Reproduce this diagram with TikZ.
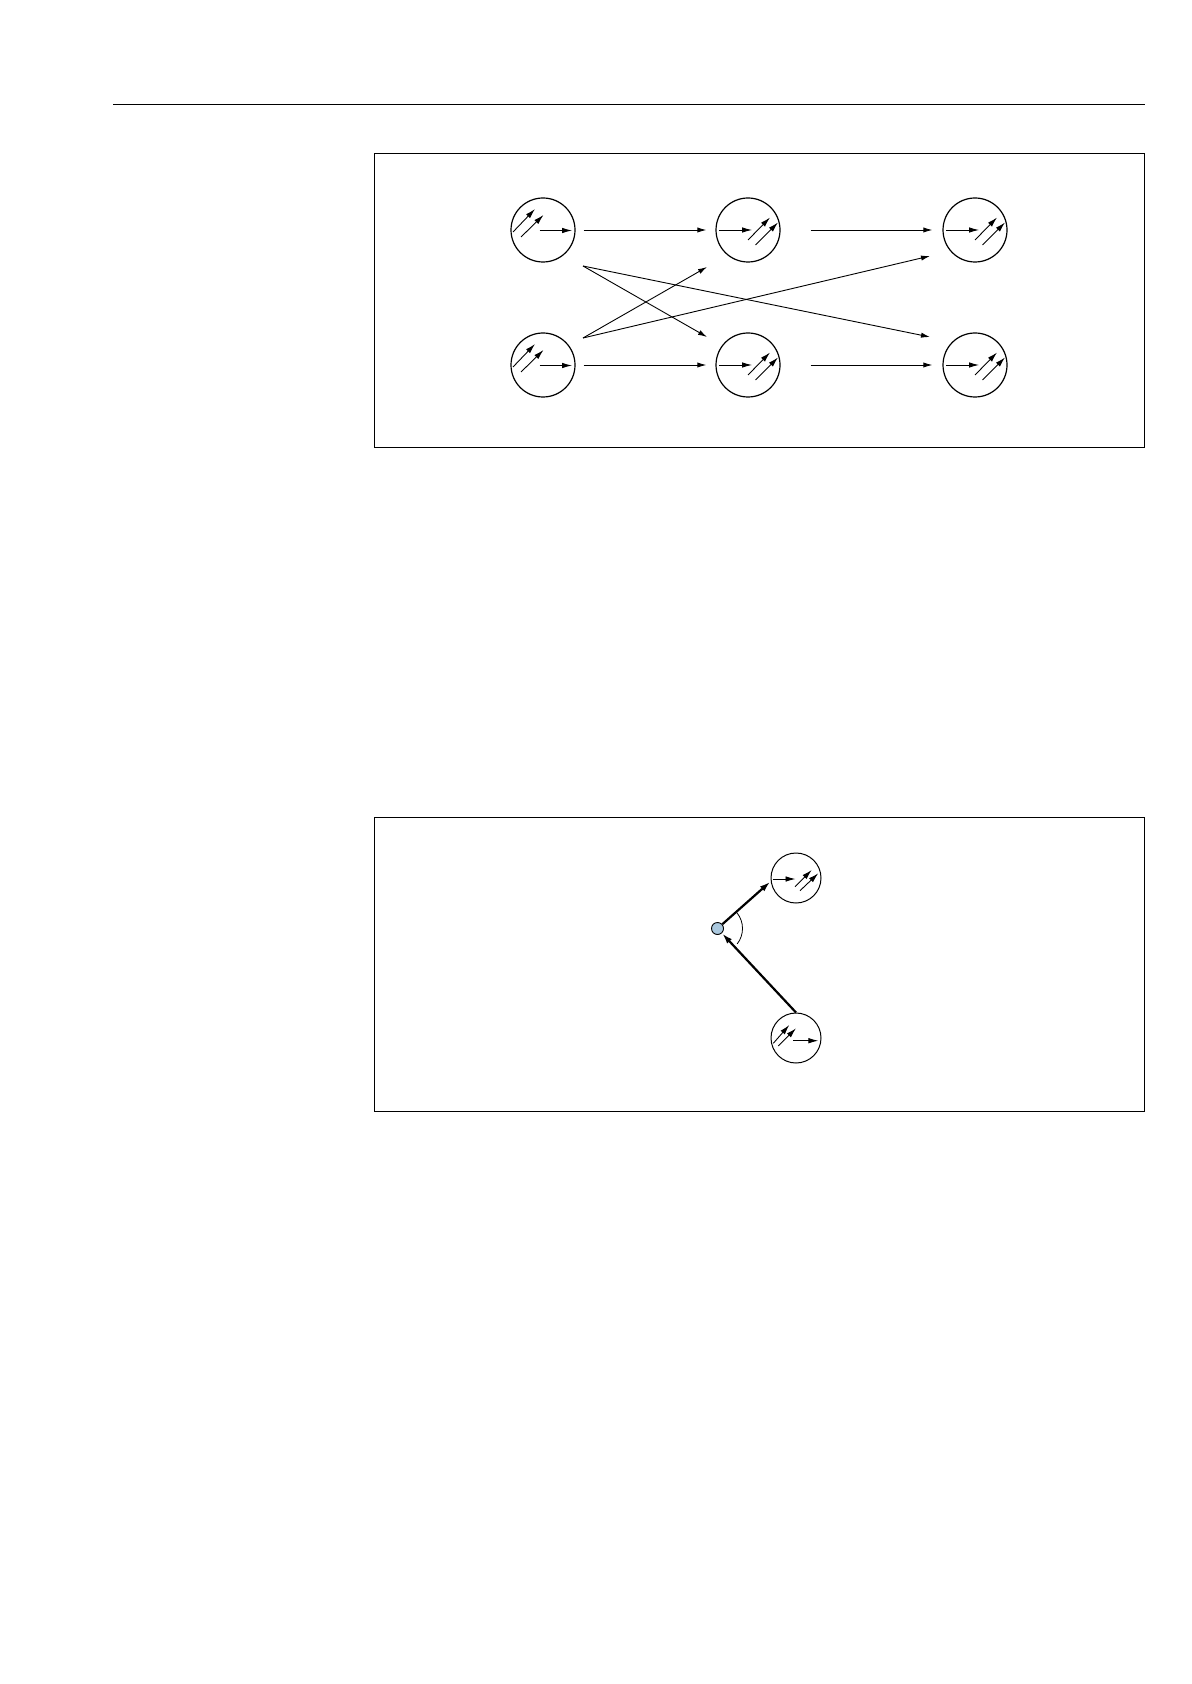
\documentclass[tikz,border=0pt]{standalone}
\usetikzlibrary{arrows.meta,calc}
\definecolor{dotblue}{RGB}{170,200,222}
\tikzset{
  frame/.style={draw=black,line width=0.7pt},
  state/.style={circle,draw=black,line width=0.6pt,minimum size=32pt,inner sep=0pt},
  smallstate/.style={circle,draw=black,line width=0.5pt,minimum size=25pt,inner sep=0pt},
  conn/.style={line width=0.45pt,-{Latex[length=4.5pt,width=2.6pt]}},
  gl/.style={line width=0.45pt,-{Latex[length=5pt,width=2.8pt]}},
  thickconn/.style={line width=1.1pt,-{Latex[length=5.5pt,width=3.2pt]}},
}
% glyph inside a circle: two diagonal arrows left, horizontal arrow right
\newcommand\glyphLeft[2]{%
  \draw[gl] ([shift={({-30*#2},{2*#2})}]#1.center) -- ([shift={({-8*#2},{-21*#2})}]#1.center);
  \draw[gl] ([shift={({-22*#2},{7*#2})}]#1.center) -- ([shift={({0.5*#2},{-15*#2})}]#1.center);
  \draw[gl] ([shift={({-3.5*#2},{0.5*#2})}]#1.center) -- ([shift={({29*#2},{0.5*#2})}]#1.center);}
% glyph inside a circle: horizontal arrow left, two diagonal arrows right
\newcommand\glyphRight[2]{%
  \draw[gl] ([shift={({-29*#2},0)}]#1.center) -- ([shift={({4*#2},0)}]#1.center);
  \draw[gl] ([shift={(0,{10*#2})}]#1.center) -- ([shift={({22*#2},{-12.5*#2})}]#1.center);
  \draw[gl] ([shift={({7.5*#2},{15*#2})}]#1.center) -- ([shift={({30*#2},{-7.5*#2})}]#1.center);}
\begin{document}
\begin{tikzpicture}[x=0.5pt,y=-0.5pt]
\useasboundingbox (0,0) rectangle (1191,1684);
% header rule
\coordinate (ruleL) at (113,104.5);
\coordinate (ruleR) at (1145,104.5);
\draw[line width=0.6pt] (ruleL) -- (ruleR);
% frames
\node[frame,minimum width=385pt,minimum height=147pt,inner sep=0pt,anchor=north west] (box1) at (374,153) {};
\node[frame,minimum width=385pt,minimum height=147pt,inner sep=0pt,anchor=north west] (box2) at (374,817) {};
% top diagram states
\node[state] (A) at (543,230) {};
\node[state] (B) at (748,230) {};
\node[state] (C) at (975,230) {};
\node[state] (D) at (543,365) {};
\node[state] (E) at (748,365) {};
\node[state] (F) at (975,365) {};
\glyphLeft{A}{1}
\glyphLeft{D}{1}
\glyphRight{B}{1}
\glyphRight{C}{1}
\glyphRight{E}{1}
\glyphRight{F}{1}
% straight connectors
\draw[conn,shorten <=4pt,shorten >=4.5pt] (A) -- (B);
\draw[conn,shorten <=15pt,shorten >=5pt] (B) -- (C);
\draw[conn,shorten <=4pt,shorten >=4.5pt] (D) -- (E);
\draw[conn,shorten <=15pt,shorten >=5pt] (E) -- (F);
% crossing connectors
\coordinate (aOut) at (583,266);
\coordinate (dOut) at (583,338);
\coordinate (bIn) at (707,267);
\coordinate (eIn) at (707,337);
\coordinate (cIn) at (930,256);
\coordinate (fIn) at (930,337);
\draw[conn] (aOut) -- (eIn);
\draw[conn] (aOut) -- (fIn);
\draw[conn] (dOut) -- (bIn);
\draw[conn] (dOut) -- (cIn);
% bottom diagram
\node[circle,draw=black,line width=0.45pt,fill=dotblue,minimum size=6pt,inner sep=0pt] (P) at (717.5,928.5) {};
\node[smallstate] (G) at (796,878) {};
\node[smallstate] (H) at (796,1038) {};
% glyphs G
\draw[gl] ([shift={(-23.3,1)}]G.center) -- ([shift={(-0.5,1)}]G.center);
\draw[gl] ([shift={(-1,8.7)}]G.center) -- ([shift={(15.7,-8)}]G.center);
\draw[gl] ([shift={(4,12.7)}]G.center) -- ([shift={(22.3,-4.7)}]G.center);
% glyphs H
\draw[gl] ([shift={(-22.7,5.3)}]H.center) -- ([shift={(-6.7,-13)}]H.center);
\draw[gl] ([shift={(-17.7,8)}]H.center) -- ([shift={(0,-9.7)}]H.center);
\draw[gl] ([shift={(-2.7,2.7)}]H.center) -- ([shift={(22.3,2.7)}]H.center);
% thick connectors
\draw[thickconn] (P) -- (G.west |- 0,881.5);
\draw[thickconn] (H.north) -- (P);
% angle arc
\draw[line width=0.4pt] ([shift={(-39:25)}]P.center) arc[start angle=-39,end angle=38,radius=25];
\end{tikzpicture}
\end{document}
